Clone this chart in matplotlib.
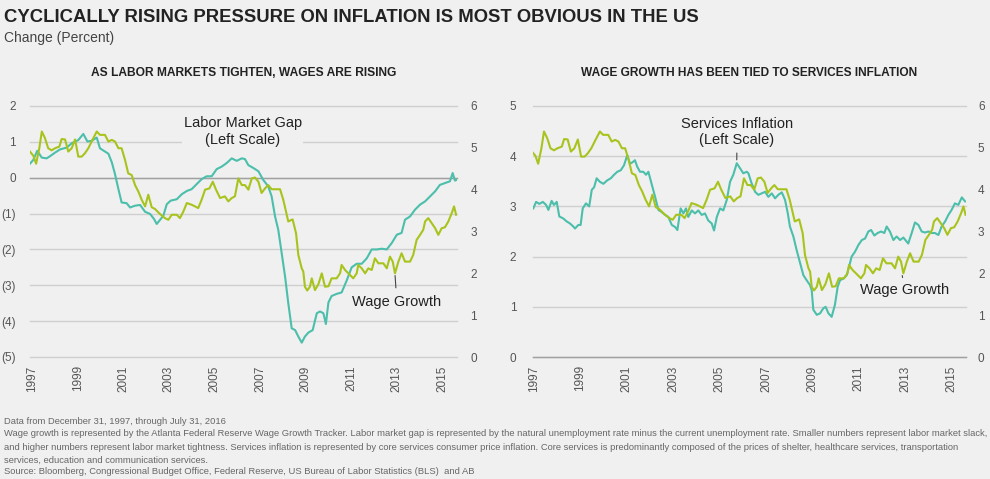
import matplotlib
matplotlib.use("Agg")
import matplotlib.pyplot as plt
from matplotlib import font_manager

# ---------------- data ----------------
gap_year = [1996.91, 1997.06, 1997.23, 1997.43, 1997.64, 1997.79, 1998.01, 1998.23, 1998.52, 1998.74,
            1999.03, 1999.25, 1999.43, 1999.62, 1999.84, 1999.98, 2000.20, 2000.35, 2000.50, 2000.64,
            2000.79, 2000.93, 2001.15, 2001.30, 2001.52, 2001.74, 2001.96, 2002.18, 2002.35, 2002.47,
            2002.61, 2002.76, 2002.91, 2003.08, 2003.35, 2003.57, 2003.79, 2004.00, 2004.22, 2004.44,
            2004.66, 2004.88, 2005.10, 2005.32, 2005.54, 2005.76, 2005.98, 2006.20, 2006.34, 2006.49,
            2006.71, 2006.93, 2007.14, 2007.36, 2007.51, 2007.66, 2007.80, 2007.95, 2008.10, 2008.24,
            2008.39, 2008.54, 2008.68, 2008.83, 2008.97, 2009.12, 2009.31, 2009.49, 2009.63, 2009.78,
            2009.89, 2010.00, 2010.14, 2010.36, 2010.58, 2010.80, 2011.02, 2011.24, 2011.46, 2011.68,
            2011.90, 2012.12, 2012.34, 2012.56, 2012.78, 2013.00, 2013.21, 2013.36, 2013.58, 2013.80,
            2014.02, 2014.24, 2014.46, 2014.68, 2014.89, 2015.11, 2015.33, 2015.45, 2015.55, 2015.63]
gap_value = [0.39, 0.50, 0.75, 0.56, 0.54, 0.60, 0.70, 0.79, 0.84, 0.96,
             1.05, 1.22, 1.01, 1.03, 1.12, 0.82, 0.73, 0.67, 0.43, 0.10,
             -0.32, -0.69, -0.71, -0.83, -0.78, -0.76, -0.95, -1.01, -1.15, -1.29,
             -1.18, -1.06, -0.74, -0.64, -0.60, -0.46, -0.37, -0.32, -0.18, -0.04,
             0.04, 0.04, 0.24, 0.31, 0.41, 0.54, 0.47, 0.54, 0.52, 0.35,
             0.27, 0.18, -0.06, -0.24, -0.52, -1.08, -1.45, -2.10, -2.76, -3.50,
             -4.20, -4.25, -4.43, -4.60, -4.43, -4.32, -4.25, -3.78, -3.73, -3.78,
             -4.08, -3.48, -3.30, -3.24, -3.20, -2.87, -2.50, -2.40, -2.40, -2.25,
             -2.00, -2.00, -1.98, -2.00, -1.82, -1.59, -1.54, -1.17, -1.08, -0.89,
             -0.75, -0.66, -0.52, -0.38, -0.20, -0.15, -0.10, 0.13, -0.08, -0.06]

wage_year = [1996.91, 1997.06, 1997.18, 1997.32, 1997.43, 1997.57, 1997.71, 1997.86, 1998.01, 1998.20,
             1998.30, 1998.45, 1998.59, 1998.74, 1998.89, 1999.03, 1999.18, 1999.32, 1999.47, 1999.66,
             1999.84, 1999.98, 2000.20, 2000.35, 2000.50, 2000.64, 2000.79, 2000.93, 2001.08, 2001.22,
             2001.37, 2001.52, 2001.66, 2001.81, 2001.96, 2002.10, 2002.25, 2002.39, 2002.61, 2002.83,
             2002.98, 2003.13, 2003.35, 2003.49, 2003.64, 2003.79, 2004.00, 2004.15, 2004.29, 2004.44,
             2004.59, 2004.78, 2004.93, 2005.07, 2005.25, 2005.46, 2005.61, 2005.76, 2005.90, 2006.05,
             2006.20, 2006.34, 2006.49, 2006.64, 2006.78, 2006.93, 2007.07, 2007.22, 2007.36, 2007.51,
             2007.88, 2008.02, 2008.24, 2008.43, 2008.58, 2008.68, 2008.83, 2008.90, 2008.97, 2009.07,
             2009.19, 2009.27, 2009.41, 2009.56, 2009.71, 2009.85, 2010.00, 2010.14, 2010.36, 2010.51,
             2010.58, 2010.73, 2010.95, 2011.09, 2011.24, 2011.31, 2011.46, 2011.61, 2011.75, 2011.90,
             2012.04, 2012.19, 2012.41, 2012.56, 2012.70, 2012.82, 2012.92, 2013.07, 2013.21, 2013.36,
             2013.58, 2013.72, 2013.87, 2014.02, 2014.16, 2014.24, 2014.38, 2014.53, 2014.68, 2014.82,
             2014.97, 2015.11, 2015.26, 2015.41, 2015.51, 2015.60]
wage_value = [4.91, 4.81, 4.62, 4.99, 5.39, 5.23, 4.99, 4.94, 4.99, 5.03,
              5.21, 5.20, 4.91, 4.99, 5.20, 4.79, 4.79, 4.87, 4.99, 5.20,
              5.39, 5.31, 5.31, 5.15, 5.19, 5.15, 4.99, 4.99, 4.71, 4.39,
              4.35, 4.11, 3.96, 3.76, 3.60, 3.88, 3.58, 3.54, 3.42, 3.32,
              3.28, 3.40, 3.40, 3.32, 3.48, 3.68, 3.64, 3.60, 3.56, 3.76,
              4.00, 4.03, 4.19, 4.00, 3.80, 3.84, 3.72, 3.80, 3.84, 4.27,
              4.11, 4.11, 4.00, 4.27, 4.29, 4.19, 3.92, 4.03, 4.11, 4.01,
              4.01, 3.76, 3.24, 3.29, 2.96, 2.44, 2.12, 2.04, 1.68, 1.59,
              1.68, 1.88, 1.60, 1.74, 2.00, 1.68, 1.69, 1.88, 1.88, 2.00,
              2.20, 2.08, 1.96, 1.88, 2.00, 2.20, 2.12, 2.00, 2.12, 2.08,
              2.36, 2.24, 2.24, 2.12, 2.40, 2.28, 2.00, 2.28, 2.48, 2.28,
              2.28, 2.44, 2.80, 2.92, 3.04, 3.24, 3.32, 3.20, 3.08, 2.92,
              3.08, 3.10, 3.24, 3.44, 3.60, 3.40]

serv_year = [1996.97, 1997.09, 1997.23, 1997.38, 1997.52, 1997.62, 1997.76, 1997.86, 1997.98, 1998.09,
             1998.26, 1998.41, 1998.55, 1998.67, 1998.77, 1998.91, 1999.01, 1999.10, 1999.24, 1999.38,
             1999.49, 1999.59, 1999.70, 1999.84, 1999.99, 2000.16, 2000.31, 2000.45, 2000.59, 2000.74,
             2000.88, 2001.02, 2001.14, 2001.25, 2001.35, 2001.45, 2001.57, 2001.71, 2001.83, 2001.93,
             2002.07, 2002.22, 2002.36, 2002.50, 2002.65, 2002.79, 2002.94, 2003.08, 2003.18, 2003.32,
             2003.44, 2003.55, 2003.65, 2003.80, 2003.94, 2004.08, 2004.23, 2004.37, 2004.51, 2004.66,
             2004.76, 2004.88, 2005.02, 2005.16, 2005.31, 2005.45, 2005.59, 2005.74, 2005.88, 2006.02,
             2006.17, 2006.24, 2006.38, 2006.53, 2006.67, 2006.81, 2006.96, 2007.10, 2007.25, 2007.39,
             2007.53, 2007.68, 2007.82, 2007.94, 2008.03, 2008.18, 2008.32, 2008.47, 2008.61, 2008.75,
             2008.90, 2008.97, 2009.04, 2009.19, 2009.33, 2009.47, 2009.57, 2009.69, 2009.83, 2009.97,
             2010.09, 2010.19, 2010.33, 2010.48, 2010.62, 2010.69, 2010.84, 2010.98, 2011.13, 2011.27,
             2011.41, 2011.53, 2011.67, 2011.81, 2011.96, 2012.10, 2012.20, 2012.34, 2012.49, 2012.63,
             2012.78, 2012.92, 2013.13, 2013.28, 2013.42, 2013.57, 2013.71, 2013.85, 2014.00, 2014.14,
             2014.28, 2014.43, 2014.57, 2014.72, 2014.86, 2015.00, 2015.14, 2015.29, 2015.44, 2015.58]
serv_value = [2.96, 3.09, 3.05, 3.09, 3.03, 2.93, 3.11, 3.03, 3.09, 2.80,
              2.76, 2.70, 2.66, 2.61, 2.56, 2.63, 2.63, 2.96, 3.06, 3.00,
              3.33, 3.38, 3.56, 3.49, 3.45, 3.52, 3.56, 3.63, 3.69, 3.72,
              3.82, 4.02, 3.85, 3.88, 3.92, 3.79, 3.69, 3.69, 3.63, 3.69,
              3.45, 3.19, 2.93, 2.89, 2.83, 2.79, 2.63, 2.59, 2.53, 2.96,
              2.86, 2.96, 2.79, 2.92, 2.86, 2.92, 2.83, 2.86, 2.72, 2.66,
              2.52, 2.79, 2.96, 2.92, 3.13, 3.49, 3.63, 3.86, 3.76, 3.66,
              3.69, 3.66, 3.46, 3.29, 3.23, 3.26, 3.29, 3.19, 3.26, 3.16,
              3.23, 3.28, 3.13, 2.86, 2.60, 2.40, 2.13, 1.87, 1.63, 1.53,
              1.43, 1.33, 0.94, 0.84, 0.87, 0.97, 1.00, 0.87, 0.80, 1.04,
              1.40, 1.53, 1.56, 1.63, 1.87, 2.00, 2.10, 2.23, 2.33, 2.36,
              2.50, 2.53, 2.42, 2.47, 2.50, 2.47, 2.60, 2.50, 2.33, 2.40,
              2.33, 2.38, 2.26, 2.47, 2.68, 2.63, 2.50, 2.48, 2.50, 2.47,
              2.47, 2.43, 2.60, 2.70, 2.83, 2.93, 3.06, 3.03, 3.18, 3.10]

year_ticks = [1997, 1999, 2001, 2003, 2005, 2007, 2009, 2011, 2013, 2015]
left1_ticks = [-5, -4, -3, -2, -1, 0, 1, 2]
left1_labels = ["(5)", "(4)", "(3)", "(2)", "(1)", "0", "1", "2"]
left2_ticks = [0, 1, 2, 3, 4, 5]
right_ticks = [0, 1, 2, 3, 4, 5, 6]

title = "CYCLICALLY RISING PRESSURE ON INFLATION IS MOST OBVIOUS IN THE US"
subtitle = "Change (Percent)"
panel1_title = "AS LABOR MARKETS TIGHTEN, WAGES ARE RISING"
panel2_title = "WAGE GROWTH HAS BEEN TIED TO SERVICES INFLATION"
footer = [
    "Data from December 31, 1997, through July 31, 2016",
    "Wage growth is represented by the Atlanta Federal Reserve Wage Growth Tracker. Labor market gap is represented by the natural unemployment rate minus the current unemployment rate. Smaller numbers represent labor market slack,",
    "and higher numbers represent labor market tightness. Services inflation is represented by core services consumer price inflation. Core services is predominantly composed of the prices of shelter, healthcare services, transportation",
    "services, education and communication services.",
    "Source: Bloomberg, Congressional Budget Office, Federal Reserve, US Bureau of Labor Statistics (BLS)  and AB",
]

# ---------------- style ----------------
BG = "#f0f0f0"
TEAL = "#4bbfab"
GREEN = "#a9c31d"
GRID = "#cfcfcf"
ZERO = "#a0a0a0"
TXT = "#222222"
TICK = "#555555"

names = {f.name for f in font_manager.fontManager.ttflist}
NARROW = "Liberation Sans Narrow" if "Liberation Sans Narrow" in names else "Liberation Sans"

W, H = 990, 479
fig = plt.figure(figsize=(W / 100, H / 100), dpi=100, facecolor=BG)


def box(x0, x1, y0, y1):
    return [x0 / W, (H - y1) / H, (x1 - x0) / W, (y1 - y0) / H]


def setup(ax, ax2, xlim, yticks, ylabels, lpad, rpad):
    ax.set_facecolor("none")
    ax.set_xlim(*xlim)
    ax.set_ylim(yticks[0], yticks[-1])
    ax.set_yticks(yticks)
    ax.set_yticklabels(ylabels)
    ax.set_xticks(year_ticks)
    ax.set_xticklabels([str(y) for y in year_ticks], rotation=90)
    ax.grid(axis="y", color=GRID, lw=1.0)
    ax.grid(axis="x", visible=False)
    for gl in ax.get_ygridlines():
        gl.set_clip_on(False)
    ax.set_axisbelow(True)
    for s in ax.spines.values():
        s.set_visible(False)
    ax.tick_params(axis="both", length=0, colors=TICK, labelsize=8.5)
    ax.tick_params(axis="y", pad=lpad)
    ax.tick_params(axis="x", pad=6)
    for lab in ax.get_xticklabels() + ax.get_yticklabels():
        lab.set_fontfamily(NARROW)
    ax.axhline(0, color=ZERO, lw=1.0, zorder=1, clip_on=False)
    ax2.set_ylim(0, 6)
    ax2.set_yticks(right_ticks)
    ax2.set_yticklabels([str(v) for v in right_ticks])
    for s in ax2.spines.values():
        s.set_visible(False)
    ax2.tick_params(axis="y", length=0, colors=TICK, labelsize=8.5, pad=rpad)
    for lab in ax2.get_yticklabels():
        lab.set_fontfamily(NARROW)


# ---- left panel ----
axL = fig.add_axes(box(30, 457, 106, 357))
axL2 = axL.twinx()
setup(axL, axL2, (1996.912, 2015.64), left1_ticks, left1_labels, 10, 9.5)
axL.plot(gap_year, gap_value, color=TEAL, lw=1.5, zorder=3)
axL2.plot(wage_year, wage_value, color=GREEN, lw=1.5, zorder=3)
axL.text(2006.25, 1.28, "Labor Market Gap\n(Left Scale)", ha="center", va="center",
         fontsize=10.5, color=TXT, family=NARROW, linespacing=1.25,
         bbox=dict(facecolor=BG, edgecolor="none", pad=1))
axL2.annotate("Wage Growth", xy=(2012.92, 1.98), xytext=(2013.0, 1.32),
              ha="center", va="center", fontsize=10.5, color=TXT, family=NARROW,
              arrowprops=dict(arrowstyle="-", color="#444444", lw=0.8, shrinkA=3, shrinkB=1))

# ---- right panel ----
axR = fig.add_axes(box(533, 966, 106, 357))
axR2 = axR.twinx()
setup(axR, axR2, (1996.957, 2015.62), left2_ticks, [str(v) for v in left2_ticks], 12, 8.6)
axR.plot(serv_year, serv_value, color=TEAL, lw=1.5, zorder=3)
axR2.plot(wage_year, wage_value, color=GREEN, lw=1.5, zorder=3)
axR.annotate("Services Inflation\n(Left Scale)", xy=(2005.74, 3.9), xytext=(2005.75, 4.48),
             ha="center", va="center", fontsize=10.5, color=TXT, family=NARROW, linespacing=1.25,
             arrowprops=dict(arrowstyle="-", color="#444444", lw=0.8, shrinkA=2, shrinkB=1))
axR2.annotate("Wage Growth", xy=(2012.86, 1.98), xytext=(2012.99, 1.60),
              ha="center", va="center", fontsize=10.5, color=TXT, family=NARROW,
              arrowprops=dict(arrowstyle="-", color="#444444", lw=0.8, shrinkA=2, shrinkB=1))

# ---- texts ----
t_title = fig.text(4 / W, 1 - 18 / H, title, ha="left", va="center", fontsize=14,
                   fontweight="bold", color=TXT, family=NARROW)
t_sub = fig.text(4 / W, 1 - 38 / H, subtitle, ha="left", va="center", fontsize=10,
                 color="#444444", family=NARROW)
t_p1 = fig.text(243.5 / W, 1 - 73 / H, panel1_title, ha="center", va="center", fontsize=9,
                fontweight="bold", color=TXT, family=NARROW)
t_p2 = fig.text(749 / W, 1 - 73 / H, panel2_title, ha="center", va="center", fontsize=9,
                fontweight="bold", color=TXT, family=NARROW)
foot_y = [421, 434, 447, 460, 472]
t_foot = [fig.text(4 / W, 1 - y / H, s, ha="left", va="center", fontsize=6.5,
                   color="#666666", family=NARROW) for s, y in zip(footer, foot_y)]

# fit widths of key texts to the reference widths
r = fig.canvas.get_renderer()


def fit(t, target):
    w = t.get_window_extent(r).width
    t.set_fontsize(t.get_fontsize() * target / w)
    return t.get_fontsize()


fit(t_title, 696)
fit(t_sub, 110)
fit(t_p1, 305)
fit(t_p2, 338)
fs = fit(t_foot[1], 981)
for t in t_foot:
    t.set_fontsize(fs)

fig.savefig("out.png", dpi=100, facecolor=BG)
